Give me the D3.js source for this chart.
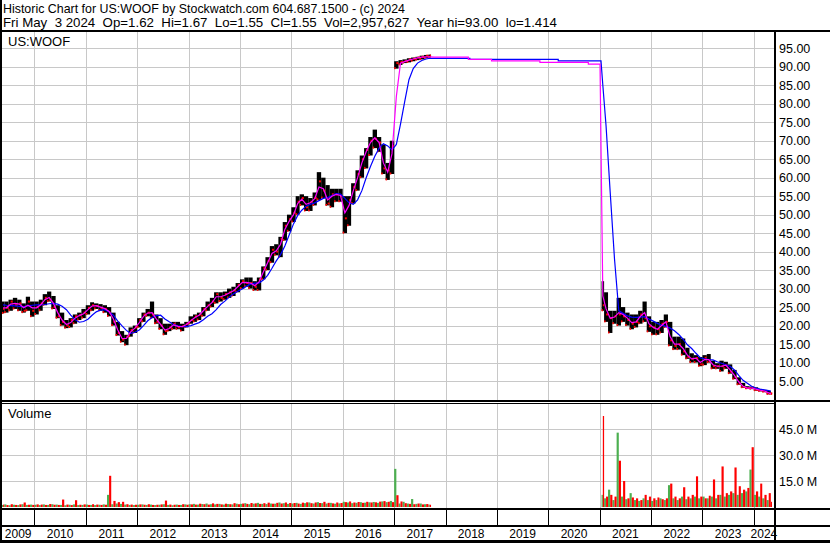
<!DOCTYPE html>
<html><head><meta charset="utf-8">
<script src="https://cdn.jsdelivr.net/npm/d3@7"></script>
<style>html,body{margin:0;padding:0;background:#fff;}svg{display:block;font-family:Arial,"Liberation Sans",sans-serif;}</style>
</head><body><svg id="c" width="830" height="543"></svg>
<script>
// ---------------- DATA ----------------
const headerLine1 = "Historic Chart for US:WOOF by Stockwatch.com 604.687.1500 - (c) 2024";
const headerLine2 = "Fri May  3 2024  Op=1.62  Hi=1.67  Lo=1.55  Cl=1.55  Vol=2,957,627  Year hi=93.00  lo=1.414";
const symbolLabel = "US:WOOF";
const volumeLabel = "Volume";
const priceTicks = [5,10,15,20,25,30,35,40,45,50,55,60,65,70,75,80,85,90,95];
const volumeTicks = [15,30,45];
const yearLabels = [2009,2010,2011,2012,2013,2014,2015,2016,2017,2018,2019,2020,2021,2022,2023,2024];

// Era 1: monthly, May 2009 .. Sep 2017
const era1First = "2009-05-15", era1Last = "2017-09-20";
const era1Low = [23.3,23.5,24,24.5,24,23.5,24,22.4,23,24,25.5,26.5,24.5,22,20,19.3,19.5,20.5,21.5,22,
 23,24,24.5,24,23.5,22.5,20,17.3,15.5,14.7,17,18,19.5,21,22.5,22,20.5,19,17.5,18.5,
 19,19,18.5,19.5,20.5,21,21.5,22.5,24,25,26,26.5,27,27.5,28,29,30,30.5,30,29.5,
 29.5,32.5,35,37,39,38.5,43,45.5,48,50,52.5,51,51,52.5,54,54.5,52.5,52,53.5,53.5,
 45,47,53,56.5,60,62.5,66,68,67,61,59.4,61,89.5,90.5,91,91.2,91.5,91.8,92,92.3,92.5];
const era1High = [26.5,26.5,27,27.5,27,26,27.8,26.5,26.5,27,28.5,29.2,28,25.5,23.5,21.5,22,23,23.5,24.5,
 25.5,26.3,26,25.8,25.5,25,23.5,21,18.5,17.5,19.5,20,22,23.5,24.5,26.5,23,22,20.5,20.5,
 21,21,20.5,21,22.5,23,23.5,25,26.5,27.5,29,29,29.2,30,30.5,31.5,32.5,33,33,32,
 33,36,38.5,41.5,42,44,48,50,52,55,55.5,55,54.5,56,61.5,60,58,57,57,57,
 55,55,58.5,62,66,68,71,73,71,69,64,70,91.5,91.8,92,92.3,92.5,92.7,93,93.2,93.3];
const era1Close = [24.5,24.8,26.5,25.5,26,24,26.5,24,25,26,27.5,27,25,22.5,21,20,21.5,22.5,22.8,23.5,
 24.8,25.5,25.3,24.8,24.5,23.5,21,18,16.2,17,18.8,19.5,21.5,23,23.5,23,21,20,18.5,19.5,
 20.5,19.5,19.8,20.5,21.5,22.5,23,24.5,25.5,26.5,28.5,27.5,28.5,29,29.5,31,32,31.5,31.5,30.5,
 32.5,35.5,37.5,40.5,40,43.5,47,48.8,50.5,53.5,54.5,52,53.5,54.5,59,56.5,53,55.5,55.5,55,
 49,54,57.5,61,65,67.5,70,70.5,69.5,62.5,62,68.5,91,91.3,91.5,92,92.2,92.5,92.7,93,93];
const era1MaShort = [24.8,24.8,25.8,26,25.8,24.8,25.5,24.8,24.8,25.6,27,27.6,26,23.5,21.5,20.3,20.8,22,22.7,23.2,
 24.3,25.3,25.4,25,24.6,23.8,21.8,18.8,16.5,16.5,18.3,19.3,20.8,22.5,23.4,23.5,21.8,20.3,18.8,19.2,
 20.2,19.8,19.7,20.3,21.3,22.2,22.8,24,25.2,26.2,27.8,27.8,28.2,28.8,29.4,30.5,31.6,31.7,31.5,30.8,
 31.8,34.5,37,39.5,40.2,42,46,48.2,50,53,54.2,52.8,53.2,54.3,57.5,57,54,55,55.5,55.2,
 50.5,52.5,56.5,60,64,67,69.5,70.8,69.5,64,61.5,66.5,82,91,91.4,91.8,92.1,92.4,92.6,92.7,92.7];
const era1MaLong = [25.6,25.5,25.4,25.3,25.2,25.1,25.3,25.5,25.6,25.6,25.7,25.9,26.0,25.8,25.2,24.3,22.8,21.6,20.9,21.1,
 21.7,22.8,23.7,24.2,24.3,23.7,22.8,21.2,19.9,18.7,17.9,18.2,18.8,20.0,21.3,22.2,22.7,22.8,21.8,21.0,
 20.3,19.9,19.7,19.7,20.0,20.4,20.8,21.6,22.5,23.2,24.3,25.7,26.6,27.7,28.6,29.3,29.9,30.6,31.2,31.5,
 31.5,32.3,33.6,35.5,37.5,39.2,41.5,44.5,47.5,49.8,51.2,52.3,52.8,53.2,53.8,54.4,54.6,55.2,55.7,55.6,
 54.4,53.2,52.8,54.0,56.5,60.0,63.0,65.8,68.0,69.2,68.6,67.5,69.0,74.5,80.5,86.5,89.5,91.0,91.7,92.1,92.3];
const era1VolUp = [1.2,1.5,1.0,1.3,1.1,1.6,1.2,1.4,
 1.3,1.1,1.5,1.2,1.6,1.4,1.2,1.0,1.3,1.5,1.1,1.2,
 1.4,1.2,1.1,1.3,1.5,7.0,1.6,2.0,1.8,1.4,1.2,1.1,
 1.3,1.5,1.2,1.4,1.1,1.3,1.6,1.2,1.0,1.4,1.2,1.5,
 1.6,1.8,1.4,1.7,2.0,1.6,1.5,1.8,1.4,1.7,1.5,1.9,
 1.8,2.2,1.6,1.9,2.4,1.8,1.7,2.0,1.9,2.6,2.2,1.8,
 2.0,2.4,1.8,2.2,2.6,2.0,2.8,2.2,2.0,2.4,1.9,2.1,
 3.0,2.6,2.2,2.4,2.8,2.5,2.7,2.9,2.4,3.2,2.8,3.5,
 22,2.0,3.0,2.0,4.6,1.8,2.0,1.6,1.4];
const era1VolDown = [1.4,1.1,1.6,1.2,1.5,2.6,1.3,1.2,
 1.5,1.4,1.2,1.7,1.3,1.2,4.3,1.4,1.1,3.9,1.3,1.5,
 1.2,1.6,1.4,1.2,1.3,18,3.5,2.8,3.0,1.6,1.4,1.3,
 1.5,1.3,1.6,1.2,1.3,1.5,3.7,1.4,1.3,1.2,1.6,1.3,
 1.5,1.4,1.9,1.6,1.4,2.1,1.8,1.5,1.9,1.6,2.2,1.6,
 2.0,1.8,2.3,2.1,1.8,2.2,2.5,1.9,2.4,2.0,2.6,2.3,
 2.3,2.0,2.5,2.7,2.2,2.6,2.3,3.0,2.4,2.1,2.6,2.3,
 2.8,3.2,2.6,2.9,2.4,3.0,2.6,2.7,3.1,3.4,3.0,2.8,
 6.8,3.2,2.2,1.8,1.6,2.0,1.5,1.7,1.3];

// Moving averages carried across the 2017-2020 gap (steps)
const gapShortDates = ["2017-10-15","2018-06-12","2018-06-12","2018-11-24","2018-11-24","2019-11-03","2019-11-03","2020-10-12","2020-10-12","2021-01-03"];
const gapShortVals  = [92.6,92.6,92.0,92.0,91.6,91.6,91.2,91.2,90.7,90.7];
const gapLongDates  = ["2017-10-15","2018-06-23","2018-06-23","2020-03-12","2020-03-12","2021-01-10"];
const gapLongVals   = [92.3,92.3,92.0,92.0,91.6,91.6];

// Era 2: monthly, Jan 2021 .. May 2024
const era2First = "2021-01-14", era2Last = "2024-05-03";
const era2Low = [24,21,18,20.5,20,21,20,19,19.5,20.5,21,18.3,17.5,17.5,18,19.5,14.5,13.5,13.5,12,
 11,10,10,9,9.3,10,8.3,8.3,7.6,8.3,7,5.5,4,3.2,2.9,2.8,2.4,2.2,2,1.4,1.5];
const era2High = [32,29,24,24,27.5,25,23.5,23,23,24,26.5,22.5,21,21,21.5,23,21,17,17,16.5,
 14,12.5,12,11.5,12,12.3,10.5,9.8,10.5,10.2,9.5,8,6,4.5,3.6,3.5,3.3,2.8,2.6,2.3,1.7];
const era2Close = [25.5,23,22,22.5,23,22.5,21.5,20.5,21,23,22,19.8,19.5,19,20.5,21,16,14.5,15,13,
 11.5,11,11.2,9.5,11.3,10.3,9,9,9,9.2,7.5,6,4.3,3.4,3.1,3.2,2.6,2.5,2.2,1.6,1.55];
const era2MaShort = [28,24.5,22,22.3,23.5,23,22,20.8,21,22.5,23.5,20.5,19.5,19,20,21,17,15,15,13.8,
 12,11,11.2,10,10.8,10.8,9.4,9,9,9.3,8,6.5,4.8,3.6,3.1,3.1,2.8,2.5,2.3,1.8,1.6];
const era2MaLong = [85,74,56,38,24,23.3,22.6,22.3,22.2,22.3,22.4,21.8,21.2,20.6,20.1,19.8,19.3,18.6,17.6,16.3,
 14.8,13.8,12.5,11.3,11,10.8,10.7,10.2,9.8,9.4,9,8,6.5,5.2,4.4,3.6,3.1,2.8,2.6,2.4,2.3];
const era2VolUp = [7,5,10,4,42.9,6,4.5,8,4,3.5,5,4,3.5,4,5,4,12.6,5,4,6,
 4.5,5,6,5,6,5,6,5,7,6,7,8,7,8,9,21.6,7,6,5,4,2];
const era2VolDown = [52.5,6,7,6,26.7,15,5,5.5,5,4,7,6,5,5.5,4.5,5,13.5,6,5,11.4,
 6,7,17.7,6,5,6.5,15.9,7,23.4,8,9,22.8,12,10,11,34.5,9,13.5,7,8,3];

// ---------------- DRAWING ----------------
const W = 830, H = 543;
const svg = d3.select("#c");
const GRID = "#c8c8c8";
const plotL = 2, plotR = 774;
const priceTop = 32, priceBot = 400.5, volTop = 403.5, volBot = 507.5;
const pd = d3.timeParse("%Y-%m-%d");

const x = d3.scaleTime().domain([new Date(2010,0,1), new Date(2024,0,1)]).range([34.4, 753.8]);
const yP = d3.scaleLinear().domain([0,95]).range([399.5, 48.3]);
const yV = d3.scaleLinear().domain([0,45]).range([507, 429]);

svg.append("rect").attr("width",W).attr("height",H).attr("fill","#fff");

// header
svg.append("text").attr("x",3).attr("y",13).attr("font-size","13.5px").attr("fill","#000")
  .attr("textLength",402).attr("lengthAdjust","spacingAndGlyphs").text(headerLine1);
svg.append("text").attr("x",3).attr("y",27).attr("font-size","13.5px").attr("fill","#000")
  .attr("textLength",554).attr("lengthAdjust","spacingAndGlyphs")
  .style("white-space","pre").text(headerLine2);

// clip paths
const defs = svg.append("defs");
defs.append("clipPath").attr("id","cp").append("rect").attr("x",plotL).attr("y",priceTop).attr("width",plotR-plotL).attr("height",priceBot-priceTop);
defs.append("clipPath").attr("id","cv").append("rect").attr("x",plotL).attr("y",volTop).attr("width",plotR-plotL).attr("height",volBot-volTop);

const years = d3.range(2010, 2025).map(y => new Date(y,0,1));

// grid: price
const gP = svg.append("g").attr("shape-rendering","crispEdges");
gP.selectAll("line.h").data(priceTicks).join("line")
  .attr("x1",plotL).attr("x2",plotR).attr("y1",d=>Math.round(yP(d))+0.5).attr("y2",d=>Math.round(yP(d))+0.5)
  .attr("stroke",GRID).attr("stroke-width",1);
gP.selectAll("line.v").data(years).join("line")
  .attr("x1",d=>Math.round(x(d))+0.5).attr("x2",d=>Math.round(x(d))+0.5).attr("y1",priceTop).attr("y2",priceBot)
  .attr("stroke",GRID).attr("stroke-width",1);
// grid: volume
const gV = svg.append("g").attr("shape-rendering","crispEdges");
gV.selectAll("line.h").data(volumeTicks).join("line")
  .attr("x1",plotL).attr("x2",plotR).attr("y1",d=>Math.round(yV(d))+0.5).attr("y2",d=>Math.round(yV(d))+0.5)
  .attr("stroke",GRID).attr("stroke-width",1);
gV.selectAll("line.v").data(years).join("line")
  .attr("x1",d=>Math.round(x(d))+0.5).attr("x2",d=>Math.round(x(d))+0.5).attr("y1",volTop).attr("y2",volBot)
  .attr("stroke",GRID).attr("stroke-width",1);

// build monthly records
function buildEra(startMonth, endExclusive, first, last, lo, hi, cl, ms, ml, vu, vd){
  const months = d3.timeMonth.range(startMonth, endExclusive);
  const f = pd(first), l = pd(last);
  return months.map((m,i)=>{
    const s = m < f ? f : m;
    const nm = d3.timeMonth.offset(m,1);
    const e = nm > l ? l : nm;
    return {s, e, mid: new Date((+s + +e)/2), lo:lo[i], hi:hi[i], cl:cl[i], ms:ms[i], ml:ml[i], vu:vu[i], vd:vd[i]};
  });
}
const era1 = buildEra(new Date(2009,4,1), new Date(2017,9,1), era1First, era1Last, era1Low, era1High, era1Close, era1MaShort, era1MaLong, era1VolUp, era1VolDown);
const era2 = buildEra(new Date(2021,0,1), new Date(2024,5,1), era2First, era2Last, era2Low, era2High, era2Close, era2MaShort, era2MaLong, era2VolUp, era2VolDown);
const bars = era1.concat(era2);

// price bars
const gBars = svg.append("g").attr("clip-path","url(#cp)");
gBars.selectAll("rect.b").data(bars).join("rect")
  .attr("x",d=>x(d.s)).attr("width",d=>Math.max(1, x(d.e)-x(d.s)))
  .attr("y",d=>yP(d.hi)).attr("height",d=>Math.max(1, yP(d.lo)-yP(d.hi)))
  .attr("fill","#000");
gBars.selectAll("rect.c").data(bars).join("rect")
  .attr("x",d=>(x(d.s)+x(d.e))/2).attr("width",d=>Math.min(2, Math.max(1,(x(d.e)-x(d.s))/2)))
  .attr("y",d=>yP(d.cl)-1).attr("height",2).attr("fill","#ff0000");
gBars.selectAll("rect.l").data(bars).join("rect")
  .attr("x",d=>x(d.s)).attr("width",1.5)
  .attr("y",d=>yP(d.lo)-1.5).attr("height",2).attr("fill","#ff0000");

// moving averages
const shortPts = era1.map(d=>[d.mid,d.ms])
  .concat(gapShortDates.map((d,i)=>[pd(d), gapShortVals[i]]))
  .concat(era2.map(d=>[d.mid,d.ms]));
const longPts = era1.map(d=>[d.mid,d.ml])
  .concat(gapLongDates.map((d,i)=>[pd(d), gapLongVals[i]]))
  .concat(era2.map(d=>[d.mid,d.ml]));
const line = d3.line().x(d=>x(d[0])).y(d=>yP(d[1]));
const gMA = svg.append("g").attr("clip-path","url(#cp)");
gMA.append("path").attr("d",line(longPts)).attr("fill","none").attr("stroke","#0000ff").attr("stroke-width",1.2);
gMA.append("path").attr("d",line(shortPts)).attr("fill","none").attr("stroke","#ff00ff").attr("stroke-width",1.2);

// volume bars
const gVol = svg.append("g").attr("clip-path","url(#cv)");
gVol.selectAll("rect.u").data(bars).join("rect")
  .attr("x",d=>x(d.s)).attr("width",d=>Math.max(1,(x(d.e)-x(d.s))/2))
  .attr("y",d=>yV(d.vu)).attr("height",d=>yV(0)-yV(d.vu)).attr("fill","#4caf50");
gVol.selectAll("rect.d").data(bars).join("rect")
  .attr("x",d=>(x(d.s)+x(d.e))/2).attr("width",d=>Math.max(1,(x(d.e)-x(d.s))/2))
  .attr("y",d=>yV(d.vd)).attr("height",d=>yV(0)-yV(d.vd)).attr("fill","#ff0000");

// labels in panels
svg.append("text").attr("x",8).attr("y",46).attr("font-size","13px").attr("fill","#000").text(symbolLabel);
svg.append("text").attr("x",8).attr("y",418).attr("font-size","13px").attr("fill","#000").text(volumeLabel);

// right axes
const axP = d3.axisRight(yP).tickValues(priceTicks).tickSize(0).tickPadding(0).tickFormat(d3.format(".2f"));
const gax = svg.append("g").attr("transform",`translate(779,0)`).call(axP);
gax.select(".domain").remove();
gax.selectAll("text").attr("font-size","12.5px").attr("font-family","Arial,'Liberation Sans',sans-serif").attr("fill","#000");
const axV = d3.axisRight(yV).tickValues(volumeTicks).tickSize(0).tickPadding(0).tickFormat(d=>d.toFixed(1)+" M");
const gav = svg.append("g").attr("transform",`translate(779,0)`).call(axV);
gav.select(".domain").remove();
gav.selectAll("text").attr("font-size","12.5px").attr("font-family","Arial,'Liberation Sans',sans-serif").attr("fill","#000");

// frame lines
const fr = svg.append("g").attr("fill","#000").attr("shape-rendering","crispEdges");
fr.append("rect").attr("x",0).attr("y",30).attr("width",W).attr("height",2);           // header separator
fr.append("rect").attr("x",0).attr("y",400).attr("width",W).attr("height",1.5);        // price bottom
fr.append("rect").attr("x",0).attr("y",403).attr("width",plotR).attr("height",1);      // volume top
fr.append("rect").attr("x",0).attr("y",507.5).attr("width",W).attr("height",2);        // volume bottom
fr.append("rect").attr("x",0).attr("y",525).attr("width",W).attr("height",2);          // strip line
fr.append("rect").attr("x",0).attr("y",540).attr("width",W).attr("height",3);          // bottom
fr.append("rect").attr("x",0).attr("y",0).attr("width",2).attr("height",H);            // left border
fr.append("rect").attr("x",773.5).attr("y",30).attr("width",2).attr("height",512);     // right axis line

// year separators in strip
svg.append("g").attr("shape-rendering","crispEdges").selectAll("line").data(years).join("line")
  .attr("x1",d=>Math.round(x(d))+0.5).attr("x2",d=>Math.round(x(d))+0.5).attr("y1",509).attr("y2",525)
  .attr("stroke","#000").attr("stroke-width",1);

// year labels
svg.append("g").selectAll("text").data(yearLabels).join("text")
  .attr("x",y=>{const a=Math.max(plotL, x(new Date(y,0,1))); const b=Math.min(plotR, x(new Date(y+1,0,1))); return (a+b)/2;})
  .attr("y",538).attr("text-anchor","middle").attr("font-size","12px").attr("fill","#000").text(d=>d);
</script></body></html>
